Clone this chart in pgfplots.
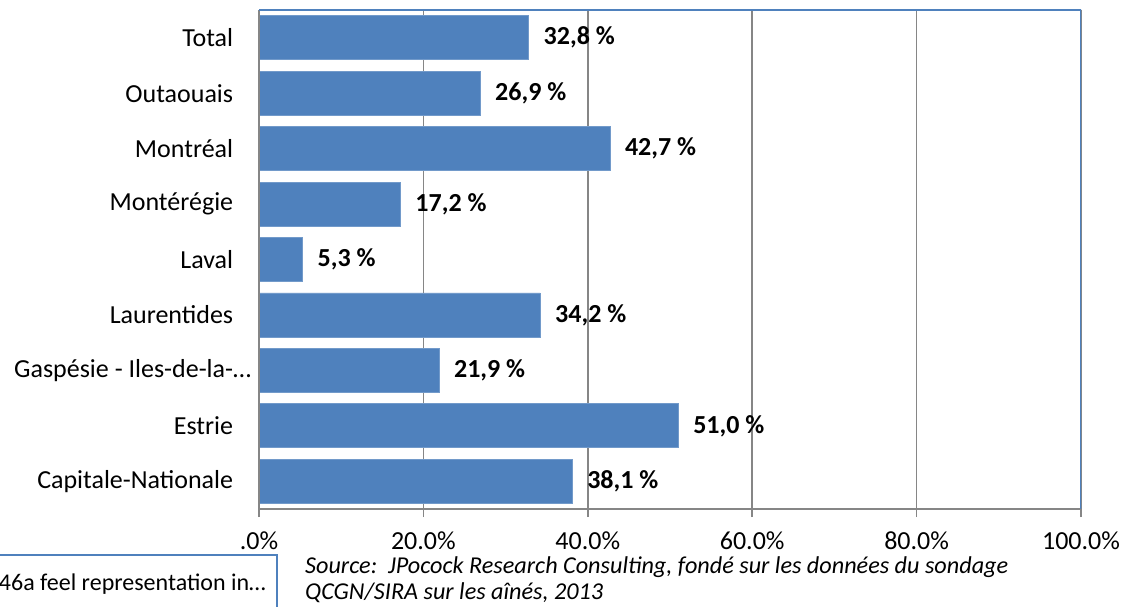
\documentclass[border=0pt]{standalone}
\usepackage{fontspec}
\setmainfont{Carlito}
\usepackage{pgfplots}
\pgfplotsset{compat=1.18}
\definecolor{barblue}{HTML}{4F81BD}
\definecolor{axgray}{HTML}{868686}
\begin{document}
\fontsize{26pt}{31pt}\selectfont
\begin{tikzpicture}
\useasboundingbox (0,0) rectangle (1137pt,606pt);
\begin{axis}[
  at={(259pt,97pt)}, anchor=south west,
  scale only axis, width=822pt, height=499pt,
  xbar, bar width=44pt,
  xmin=0, xmax=100, ymin=-0.5, ymax=8.5,
  /pgf/number format/assume math mode=true,
  xtick={0,20,40,60,80,100},
  xticklabels={.0\%,20.0\%,40.0\%,60.0\%,80.0\%,100.0\%},
  ytick={0,...,8},
  yticklabels={Capitale-Nationale, Estrie, Gaspésie - Iles-de-la-\rlap{…}, Laurentides, Laval, Montérégie, Montréal, Outaouais, Total},
  xtick pos=bottom, ytick pos=left,
  tick align=outside,
  major tick length=8pt,
  x tick style={axgray, line width=1.5pt},
  y tick style={draw=none},
  extra y ticks={-0.5,0.5,...,8.5},
  extra y tick labels={},
  extra y tick style={grid=none, tick style={draw=axgray, line width=1.5pt}},
  xmajorgrids, ymajorgrids=false,
  grid style={axgray, line width=1.5pt},
  axis line style={draw=none},
  x tick label style={font=\fontsize{26pt}{31pt}\selectfont, yshift=-6pt},
  y tick label style={font=\fontsize{26pt}{31pt}\selectfont, xshift=-9pt},
  nodes near coords={\pgfmathprintnumber[fixed,fixed zerofill,precision=1,use comma,assume math mode=true]{\pgfplotspointmeta}~\%},
  every node near coord/.style={font=\fontsize{26pt}{31pt}\selectfont\bfseries, anchor=west, xshift=6pt, text=black},
]
\addplot[fill=barblue, draw=barblue!80!white, line width=0.8pt] coordinates {
  (38.1,0) (51.0,1) (21.9,2) (34.2,3) (5.3,4) (17.2,5) (42.7,6) (26.9,7) (32.8,8)
};
\draw[axgray, line width=1.5pt] (rel axis cs:0,0) -- (rel axis cs:1,0);
\draw[axgray, line width=1.5pt] (rel axis cs:0,0) -- (rel axis cs:0,1);
\draw[barblue, line width=1.5pt] (rel axis cs:0,1) -- (rel axis cs:1,1) -- (rel axis cs:1,0);
\end{axis}
\draw[barblue, line width=1.2pt] (-20pt,-20pt) rectangle (277pt,51pt);
\node[anchor=base east, inner sep=0pt, font=\fontsize{24pt}{29pt}\selectfont] at (266pt,16pt) {46a feel representation in…};
\node[anchor=base west, inner sep=0pt, font=\fontsize{24.2pt}{29pt}\selectfont\itshape] at (305pt,33pt) {Source:\ \ JPocock Research Consulting, fondé sur les données du sondage};
\node[anchor=base west, inner sep=0pt, font=\fontsize{24.2pt}{29pt}\selectfont\itshape] at (305pt,7pt) {QCGN/SIRA sur les aînés, 2013};
\end{tikzpicture}
\end{document}
